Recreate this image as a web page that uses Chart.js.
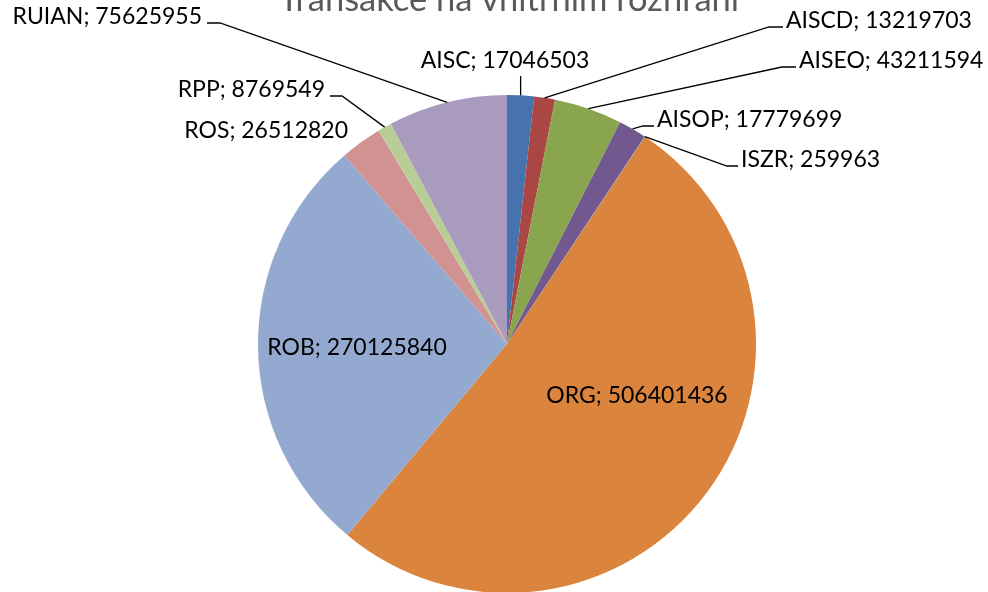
<!DOCTYPE html>
<html>
<head>
<meta charset="utf-8">
<script src="https://cdn.jsdelivr.net/npm/chart.js@4/dist/chart.umd.min.js"></script>
<style>
  html, body { margin: 0; padding: 0; background: #fff; overflow: hidden; }
  #wrap { position: absolute; left: 0; top: 0; width: 988px; height: 640px; }
</style>
</head>
<body>
<div id="wrap"><canvas id="pie"></canvas></div>
<script>
// Transakce na vnitřním rozhraní
const chartTitle = "Transakce na vnitřním rozhraní"
const categories = ["AISC", "AISCD", "AISEO", "AISOP", "ISZR", "ORG", "ROB", "ROS", "RPP", "RUIAN"]
const transactions = [17046503, 13219703, 43211594, 17779699, 259963, 506401436, 270125840, 26512820, 8769549, 75625955]
const sliceColors = ["#4673ae", "#aa4644", "#89a54e", "#71588f", "#4198af", "#db843d", "#93a9cf", "#d19392", "#b9cd96", "#a99bbd"]

// where each data label sits (x, baseline y), and how its leader line runs
const labelLayout = {
    AISC:  { x: 505, y: 68,  align: "center", leader: "up",    stub: 76 },
    AISCD: { x: 786, y: 28,  align: "left",   leader: "elbow", elbow: 769 },
    AISEO: { x: 799, y: 68,  align: "left",   leader: "elbow", elbow: 782 },
    AISOP: { x: 657, y: 127, align: "left",   leader: "elbow", elbow: 643 },
    ISZR:  { x: 741, y: 167, align: "left",   leader: "elbow", elbow: 727 },
    ORG:   { x: 637, y: 403, align: "center", leader: "none" },
    ROB:   { x: 357, y: 355, align: "center", leader: "none" },
    ROS:   { x: 348, y: 138, align: "right",  leader: "none" },
    RPP:   { x: 325, y: 97,  align: "right",  leader: "elbow", elbow: 342 },
    RUIAN: { x: 202, y: 24,  align: "right",  leader: "elbow", elbow: 220 },
}

const labelFont = "23px Lato"

const pieLabels = {
    id: "pieLabels",
    afterDatasetsDraw(chart) {
        const ctx = chart.ctx
        const arcs = chart.getDatasetMeta(0).data
        ctx.save()

        // title, cut off by the top edge like in the source picture
        ctx.font = "34.5px Lato"
        ctx.fillStyle = "#595959"
        ctx.textAlign = "center"
        ctx.textBaseline = "alphabetic"
        ctx.fillText(chartTitle, 509, 11)

        ctx.font = labelFont
        ctx.fillStyle = "#000"
        ctx.strokeStyle = "#000"
        ctx.lineWidth = 1.3
        arcs.forEach((arc, i) => {
            const name = categories[i]
            const pos = labelLayout[name]
            const text = `${name}; ${transactions[i]}`
            const p = arc.getProps(["x", "y", "startAngle", "endAngle", "outerRadius"], true)
            const mid = (p.startAngle + p.endAngle) / 2
            const ex = p.x + Math.cos(mid) * p.outerRadius
            const ey = p.y + Math.sin(mid) * p.outerRadius

            ctx.textAlign = pos.align
            ctx.fillText(text, pos.x, pos.y)

            if (pos.leader === "elbow") {
                const ly = pos.y - 1
                const end = pos.align === "left" ? pos.x - 3 : pos.x + 5
                ctx.beginPath()
                ctx.moveTo(ex, ey)
                ctx.lineTo(pos.elbow, ly)
                ctx.lineTo(end, ly)
                ctx.stroke()
            } else if (pos.leader === "up") {
                ctx.beginPath()
                ctx.moveTo(ex, ey)
                ctx.lineTo(ex, pos.stub)
                ctx.stroke()
            }
        })
        ctx.restore()
    }
}

new Chart(document.getElementById("pie"), {
    type: "pie",
    data: {
        labels: categories,
        datasets: [{
            data: transactions,
            backgroundColor: sliceColors,
            borderWidth: 0,
            hoverOffset: 0,
        }]
    },
    options: {
        responsive: true,
        maintainAspectRatio: false,
        animation: false,
        radius: 249,
        layout: { padding: { top: 95, bottom: 47, left: 258, right: 232 } },
        plugins: {
            legend: { display: false },
            tooltip: { enabled: false },
            title: { display: false },
        }
    },
    plugins: [pieLabels]
})
</script>
</body>
</html>
